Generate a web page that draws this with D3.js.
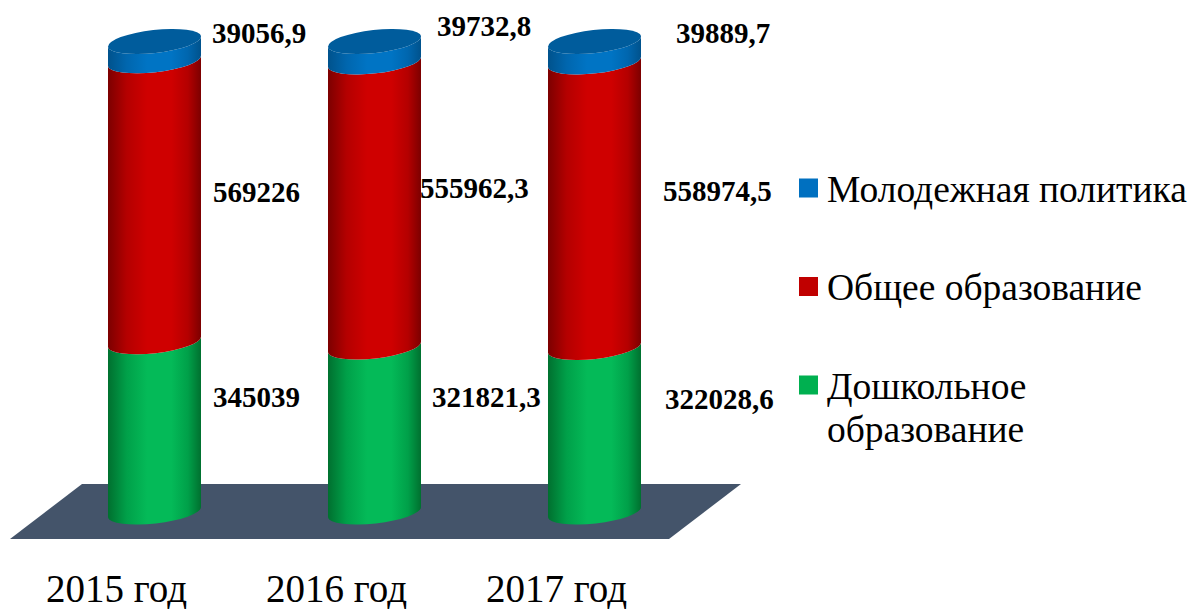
<!DOCTYPE html>
<html><head><meta charset="utf-8">
<script src="https://cdn.jsdelivr.net/npm/d3@7/dist/d3.min.js"></script>
<style>html,body{margin:0;padding:0;background:#fff}svg{display:block}text{fill:#000;font-family:"Liberation Serif",serif}</style>
</head><body><svg id="c" width="1189" height="609"></svg>
<script>
const years=["2015 год","2016 год","2017 год"];
const seriesNames=["Дошкольное образование","Общее образование","Молодежная политика"];
const preschool=[345039,321821.3,322028.6];
const general=[569226,555962.3,558974.5];
const youth=[39056.9,39732.8,39889.7];
const valueLabels=[["345039","321821,3","322028,6"],["569226","555962,3","558974,5"],["39056,9","39732,8","39889,7"]];
const colors=["#00B050","#C00000","#0070C0"];
const darks=["#00702f","#7c0000","#00528c"];
const mids=["#00a049","#b40000","#0066ae"];
const brights=["#04ba58","#cf0000","#0074c4"];
const labelDx=[[58.5,57.5,70.5],[58.5,45.5,68.5],[57.5,62.5,81.5]];
const labelDy=[[-19.4,-22,-21.2],[1.2,-6,-3.2],[-8.6,-15.2,-8.2]];

const svg=d3.select("#c");
const rows=years.map((y,i)=>({y,[seriesNames[0]]:preschool[i],[seriesNames[1]]:general[i],[seriesNames[2]]:youth[i]}));
const stacked=d3.stack().keys(seriesNames).offset(d3.stackOffsetExpand)(rows);
const x=d3.scalePoint().domain(years).range([154.5,594.5]);
const y=d3.scaleLinear().domain([0,1]).range([512,41.5]);
const halfW=46.5,tilt=5.2,ry=11.5,rx=Math.hypot(halfW,tilt),rot=-Math.atan2(tilt,halfW)*180/Math.PI;

const defs=svg.append("defs");
colors.forEach((c,i)=>{
  const g=defs.append("linearGradient").attr("id","g"+i).attr("x1",0).attr("x2",1).attr("y1",0).attr("y2",0);
  [[0,darks[i]],[.2,mids[i]],[.42,brights[i]],[.68,brights[i]],[.86,mids[i]],[1,darks[i]]].forEach(([o,k])=>g.append("stop").attr("offset",o).attr("stop-color",k));
});

// floor
const floor=[[82,484],[741,484],[669,539],[10,539]];
svg.append("path").attr("d",d3.line()(floor)+"Z").attr("fill","#44546A");

// cylinders
stacked.forEach((s,si)=>{
  svg.append("g").selectAll("path").data(s).join("path")
    .attr("fill",`url(#g${si})`)
    .attr("d",(d,i)=>{
      const cx=x(years[i]),y0=y(d[0]),y1=y(d[1]);
      return `M${cx-halfW},${y1+tilt}A${rx},${ry} ${rot} 0 0 ${cx+halfW},${y1-tilt}`+
             `L${cx+halfW},${y0-tilt}A${rx},${ry} ${rot} 0 1 ${cx-halfW},${y0+tilt}Z`;
    });
});
// top cap
svg.append("g").selectAll("ellipse").data(years).join("ellipse")
  .attr("transform",d=>`translate(${x(d)},${y(1)}) rotate(${rot})`)
  .attr("rx",rx).attr("ry",ry).attr("fill","#005c9c");

// value labels
stacked.forEach((s,si)=>{
  svg.append("g").selectAll("text").data(s).join("text")
    .attr("x",(d,i)=>x(years[i])+labelDx[si][i])
    .attr("y",(d,i)=>y((d[0]+d[1])/2)+labelDy[si][i])
    .attr("font-size",29).attr("font-weight","bold")
    .text((d,i)=>valueLabels[si][i]);
});

// category axis
const ax=svg.append("g").attr("transform","translate(-38.5,574)")
  .call(d3.axisBottom(x).tickSize(0).tickPadding(0));
ax.select(".domain").remove();
ax.selectAll("text").attr("font-size",39).attr("font-family","Liberation Serif").attr("fill","#000").attr("dy","0.72em");

// legend
const legendY=d3.scalePoint().domain(seriesNames).range([385,188]);
const lg=svg.append("g").selectAll("g").data(seriesNames).join("g");
lg.append("rect").attr("x",799).attr("width",19).attr("height",19)
  .attr("y",d=>legendY(d)-9.5).attr("fill",(d,i)=>colors[i]);
lg.each(function(d){
  const t=d3.select(this).append("text").attr("x",827).attr("font-size",37.5);
  d.startsWith("Дош")
    ? d.split(" ").forEach((w,j)=>t.append("tspan").attr("x",827).attr("y",legendY(d)+13.5+j*43).text(w))
    : t.attr("y",legendY(d)+13.5).text(d);
});
</script></body></html>
